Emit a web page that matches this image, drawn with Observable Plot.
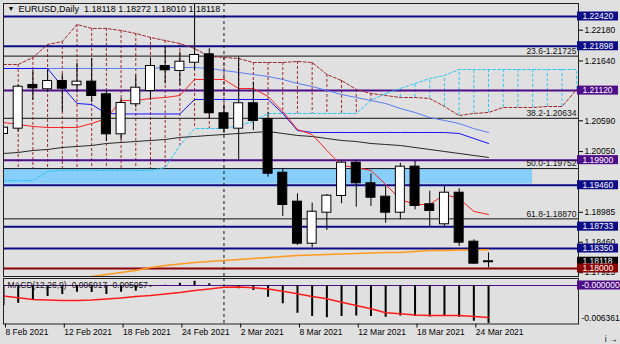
<!DOCTYPE html>
<html><head><meta charset="utf-8">
<script src="https://cdn.jsdelivr.net/npm/d3@7"></script>
<script src="https://cdn.jsdelivr.net/npm/@observablehq/plot@0.6"></script>
<style>
html,body{margin:0;padding:0;background:#e0e0e0;}
#chart{position:relative;width:620px;height:344px;background:#e0e0e0;overflow:hidden;}
#chart svg{position:absolute;left:0;}
</style></head><body><div id="chart"></div>
<script>
// ---------- data ----------
const symbol = "EURUSD,Daily";
const dates = ["8 Feb 2021","9 Feb 2021","10 Feb 2021","11 Feb 2021","12 Feb 2021","15 Feb 2021","16 Feb 2021","17 Feb 2021","18 Feb 2021","19 Feb 2021","22 Feb 2021","23 Feb 2021","24 Feb 2021","25 Feb 2021","26 Feb 2021","1 Mar 2021","2 Mar 2021","3 Mar 2021","4 Mar 2021","5 Mar 2021","8 Mar 2021","9 Mar 2021","10 Mar 2021","11 Mar 2021","12 Mar 2021","15 Mar 2021","16 Mar 2021","17 Mar 2021","18 Mar 2021","19 Mar 2021","22 Mar 2021","23 Mar 2021","24 Mar 2021","25 Mar 2021"];
const open  = [1.20368,1.20461,1.21210,1.21152,1.21280,1.21222,1.21268,1.21047,1.20362,1.20889,1.21122,1.21543,1.21473,1.21618,1.21748,1.20713,1.20461,1.20889,1.20613,1.19671,1.19163,1.18443,1.18987,1.19280,1.19847,1.19485,1.19250,1.18987,1.19777,1.19117,1.18784,1.19320,1.18461,1.18118];
const high  = [1.20600,1.21220,1.21473,1.21473,1.21403,1.21600,1.21683,1.21122,1.20982,1.21385,1.21683,1.21882,1.21794,1.22648,1.21853,1.20859,1.21706,1.21268,1.20740,1.19754,1.19310,1.19145,1.19298,1.19882,1.19894,1.19661,1.19456,1.19847,1.19882,1.19356,1.19438,1.19398,1.18503,1.18272];
const low   = [1.20140,1.20400,1.20947,1.21087,1.20741,1.21080,1.20911,1.20227,1.20245,1.20824,1.20947,1.21239,1.21210,1.21473,1.20631,1.20368,1.19894,1.20420,1.19601,1.18912,1.18403,1.18363,1.18666,1.19135,1.19075,1.19087,1.18794,1.18854,1.19029,1.18737,1.18737,1.18386,1.18070,1.18010];
const close = [1.20461,1.21180,1.21169,1.21280,1.21162,1.21268,1.21034,1.20362,1.20894,1.21162,1.21543,1.21485,1.21618,1.21736,1.20731,1.20461,1.20889,1.20596,1.19671,1.19122,1.18443,1.18987,1.19268,1.19847,1.19503,1.19250,1.18987,1.19777,1.19105,1.19017,1.19320,1.18461,1.18093,1.18118];

const tenkan = [1.20561,1.20526,1.20491,1.20473,1.20473,1.20473,1.20543,1.20631,1.20947,1.20947,1.20982,1.20999,1.21034,1.21315,1.21315,1.21315,1.21157,1.21157,1.21017,1.20754,1.20438,1.20350,1.20070,1.19806,1.19771,1.19719,1.19473,1.19210,1.19122,1.19122,1.19298,1.19228,1.19000,1.18947];
const kijun  = [1.21508,1.21508,1.21508,1.21508,1.21192,1.20894,1.20876,1.20719,1.20710,1.20710,1.20710,1.20710,1.20710,1.20964,1.20964,1.20964,1.20964,1.20964,1.20964,1.20719,1.20420,1.20385,1.20385,1.20385,1.20385,1.20385,1.20385,1.20385,1.20385,1.20385,1.20385,1.20368,1.20280,1.20192];
const maFast = [1.21508,1.21508,1.21508,1.21508,1.21508,1.21508,1.21508,1.21508,1.21508,1.21508,1.21508,1.21525,1.21525,1.21525,1.21508,1.21473,1.21438,1.21403,1.21368,1.21315,1.21245,1.21192,1.21122,1.21052,1.20999,1.20947,1.20894,1.20806,1.20736,1.20648,1.20596,1.20543,1.20453,1.20385];
const maSlow = [1.20017,1.20034,1.20070,1.20087,1.20122,1.20140,1.20157,1.20192,1.20210,1.20227,1.20245,1.20262,1.20298,1.20315,1.20333,1.20350,1.20368,1.20385,1.20403,1.20368,1.20333,1.20315,1.20280,1.20245,1.20227,1.20192,1.20175,1.20157,1.20122,1.20087,1.20052,1.20017,1.19982,1.19947];
const maLong = [null,null,null,null,null,null,1.17859,1.17894,1.17930,1.17965,1.18017,1.18052,1.18079,1.18105,1.18123,1.18140,1.18158,1.18175,1.18193,1.18210,1.18228,1.18236,1.18245,1.18254,1.18263,1.18272,1.18280,1.18280,1.18298,1.18315,1.18315,1.18324,1.18324,1.18328];
// Senkou spans (shifted 26 bars ahead -> 40 positions)
const spanA = [1.21578,1.21578,1.21701,1.21929,1.21981,1.22280,1.22210,1.22210,1.22174,1.22122,1.22052,1.21999,1.21946,1.21859,1.21718,1.21701,1.21683,1.21613,1.21613,1.21613,1.21631,1.21613,1.21403,1.21297,1.21140,1.21069,1.21034,1.20999,1.20999,1.20982,1.20841,1.20683,1.20719,1.20736,1.20824,1.20824,1.20824,1.20841,1.20841,1.21140];
const spanB = [1.19543,1.19543,1.19543,1.19701,1.19719,1.19719,1.19719,1.19719,1.19719,1.19719,1.19719,1.19771,1.20157,1.20455,1.20455,1.20455,1.20508,1.20578,1.20719,1.20719,1.20719,1.20719,1.20719,1.20719,1.20719,1.20947,1.21069,1.21157,1.21245,1.21332,1.21385,1.21490,1.21490,1.21490,1.21490,1.21490,1.21490,1.21490,1.21490,1.21490];

const macd   = [-0.00316,-0.00280,-0.00226,-0.00174,-0.00142,-0.00106,-0.00110,-0.00142,-0.00106,-0.00090,-0.00024,0.00005,0.00036,0.00068,0.00027,-0.00010,-0.00052,-0.00079,-0.00185,-0.00289,-0.00438,-0.00490,-0.00510,-0.00490,-0.00482,-0.00490,-0.00501,-0.00482,-0.00490,-0.00498,-0.00482,-0.00501,-0.00564,-0.006017];
const signal = [-0.00166,-0.00194,-0.00221,-0.00229,-0.00237,-0.00237,-0.00229,-0.00213,-0.00198,-0.00174,-0.00158,-0.00134,-0.00111,-0.00079,-0.00055,-0.00027,-0.00024,-0.00036,-0.00055,-0.00090,-0.00131,-0.00174,-0.00210,-0.00264,-0.00316,-0.00368,-0.00431,-0.00447,-0.00466,-0.00474,-0.00474,-0.00474,-0.00490,-0.005057];
const macdName = "MACD(12,26,9)";
const macdMinLabel = -0.006361;

const levelPrices = [1.22420,1.21898,1.21120,1.19900,1.19460,1.18733,1.18350,1.18000];
const levelKinds  = ["level","level","pivot","pivot","level","level","level","support"];
const fiboNames  = ["23.6","38.2","50.0","61.8"];
const fiboPrices = [1.21725,1.20634,1.19752,1.18870];
const zoneTop = 1.19752, zoneBottom = 1.19480, zoneFromBar = -1, zoneToBar = 36;
const priceTicks = [1.22180,1.21640,1.20590,1.20050,1.18985,1.18460,1.17925];
const dateTicks = ["8 Feb 2021","12 Feb 2021","18 Feb 2021","24 Feb 2021","2 Mar 2021","8 Mar 2021","12 Mar 2021","18 Mar 2021","24 Mar 2021"];
const monthStart = "1 Mar 2021";

// ---------- build ----------
const font = "'Liberation Sans', Arial, sans-serif";
const FS = 8.5;
const kindColor = {level:"#0c0c86", pivot:"#4e0d88", support:"#8b0000", bid:"#000000"};
const brown = "#a0282d", cyan = "#2ec5f5";
const xDomain = [0, 39.12];
const priceDomain = [1.17859, 1.22648];
const last = dates.length - 1;

const bars = dates.map((d,i)=>({i, open:open[i], high:high[i], low:low[i], close:close[i]}));
const cloud = spanA.map((a,i)=>({i, a, b:spanB[i]}));
const ser = arr => arr.map((v,i)=>({i, v})).filter(d=>d.v!=null);
const sepIndex = dates.indexOf(monthStart);
const tickIdx = dateTicks.map(t=>dates.indexOf(t));
const levels = levelPrices.map((p,k)=>({price:p, kind:levelKinds[k]}));
const fibo = fiboPrices.map((p,k)=>({price:p, name:fiboNames[k]}));
const labels = [...levels, {price:close[last], kind:"bid"}].sort((a,b)=>b.price-a.price);
const title = `${symbol}  ${open[last].toFixed(5)} ${high[last].toFixed(5)} ${low[last].toFixed(5)} ${close[last].toFixed(5)}`;

const lineOpts = (stroke, extra={}) => ({x:"i", y:"v", stroke, strokeWidth:1, clip:true, ...extra});

const main = Plot.plot({
  width:620, height:278, marginTop:3, marginBottom:2, marginLeft:3, marginRight:42,
  style:{background:"transparent", fontFamily:font, fontSize:FS+"px", color:"#000", overflow:"visible"},
  x:{type:"linear", domain:xDomain, axis:null},
  y:{type:"linear", domain:priceDomain},
  marks:[
    Plot.ruleX(cloud, {x:"i", y1:"a", y2:"b", stroke:d=>d.a>d.b?brown:cyan, strokeDasharray:"3,2", strokeWidth:1, clip:true}),
    Plot.rect([{x1:zoneFromBar, x2:zoneToBar, y1:zoneTop, y2:zoneBottom}], {x1:"x1", x2:"x2", y1:"y1", y2:"y2", fill:"#87cefa", clip:true}),
    Plot.ruleY(fibo, {y:"price", stroke:"#111", strokeWidth:1}),
    Plot.ruleY(levels, {y:"price", stroke:d=>kindColor[d.kind], strokeWidth:2}),
    Plot.text(fibo, {y:"price", text:d=>`${d.name}-${d.price.toFixed(5)}`, frameAnchor:"right", textAnchor:"end", dx:-2, dy:-5, fill:"#111", fontSize:FS}),
    Plot.ruleX([sepIndex], {stroke:"#111", strokeDasharray:"3,3", strokeWidth:1}),
    Plot.line(ser(spanA), lineOpts(brown, {strokeDasharray:"3,2"})),
    Plot.line(ser(spanB), lineOpts(cyan, {strokeDasharray:"3,2"})),
    Plot.line(ser(maLong), lineOpts("#ff9a1a", {strokeWidth:1.5})),
    Plot.line(ser(maSlow), lineOpts("#262626")),
    Plot.line(ser(maFast), lineOpts("#5a7cf0")),
    Plot.line(ser(kijun), lineOpts("#1414ff")),
    Plot.line(ser(tenkan), lineOpts("#ff2020")),
    Plot.ruleX(bars, {x:"i", y1:"low", y2:"high", stroke:"#000", strokeWidth:1, clip:true}),
    Plot.rect(bars, {x1:"i", x2:"i", y1:d=>Math.min(d.open,d.close), y2:d=>Math.max(d.open,d.close),
      insetLeft:-4.5, insetRight:-4.5, insetTop:-0.5, insetBottom:-0.5,
      fill:d=>d.close>=d.open?"#ffffff":"#000000", stroke:"#000", strokeWidth:1, clip:true}),
    Plot.text(["▼"], {frameAnchor:"top-left", dx:4, dy:3, fontSize:7, fill:"#000"}),
    Plot.text([title], {frameAnchor:"top-left", dx:15, dy:2, fontSize:FS+0.5, fill:"#000"}),
    Plot.axisY(priceTicks, {anchor:"right", tickSize:4, tickPadding:2, tickFormat:d=>d.toFixed(5), fontSize:FS, stroke:"#000", fill:"#000"}),
    Plot.frame({stroke:"#222"}),
    ...labels.flatMap(l => [
      Plot.rect([l], {x1:xDomain[1], x2:xDomain[1], y1:"price", y2:"price", insetLeft:-1, insetRight:-40, insetTop:-4.5, insetBottom:-4.5, fill:kindColor[l.kind]}),
      Plot.text([l], {y:"price", text:d=>d.price.toFixed(5), frameAnchor:"right", textAnchor:"start", dx:4, fill:"#fff", fontSize:FS})
    ])
  ]
});

const macdRows = ser(macd), sigRows = ser(signal);
const sub = Plot.plot({
  width:620, height:68, marginTop:2, marginBottom:20.5, marginLeft:3, marginRight:42,
  style:{background:"transparent", fontFamily:font, fontSize:FS+"px", color:"#000", overflow:"visible"},
  x:{type:"linear", domain:xDomain, axis:null},
  y:{type:"linear", domain:[-0.006083, 0.001106], axis:null},
  marks:[
    Plot.ruleX([sepIndex], {stroke:"#111", strokeDasharray:"3,3", strokeWidth:1}),
    Plot.ruleY([0], {stroke:"#4e0d88", strokeWidth:1.2}),
    Plot.ruleX(macdRows, {x:"i", y1:0, y2:"v", stroke:"#000", strokeWidth:2, clip:true}),
    Plot.line(sigRows, {x:"i", y:"v", stroke:"#ff1a1a", strokeWidth:1.5, clip:true}),
    Plot.text([`${macdName} ${macd[last].toFixed(6)} ${signal[last].toFixed(6)}`], {y:0, frameAnchor:"left", textAnchor:"start", dx:4, fill:"#111", fontSize:FS}),
    Plot.axisX(tickIdx, {anchor:"bottom", tickSize:4, tickPadding:1, tickFormat:i=>dates[i], textAnchor:"start", dx:2, fontSize:FS, stroke:"#000", fill:"#000"}),
    Plot.frame({stroke:"#222"}),
    Plot.rect([{v:0}], {x1:xDomain[1], x2:xDomain[1], y1:"v", y2:"v", insetLeft:-1, insetRight:-44, insetTop:-4.5, insetBottom:-4.5, fill:"#4e0d88"}),
    Plot.text([{v:0}], {y:"v", text:d=>"-"+d.v.toFixed(6), frameAnchor:"right", textAnchor:"start", dx:3, fill:"#fff", fontSize:FS}),
    Plot.text([{v:macdMinLabel}], {y:"v", text:d=>d.v.toFixed(6), frameAnchor:"right", textAnchor:"start", dx:3, dy:-7, fill:"#000", fontSize:FS})
  ]
});

const root = document.getElementById("chart");
main.style.top = "0px";
sub.style.top = "276px";
root.appendChild(main);
root.appendChild(sub);
</script>
</body></html>
